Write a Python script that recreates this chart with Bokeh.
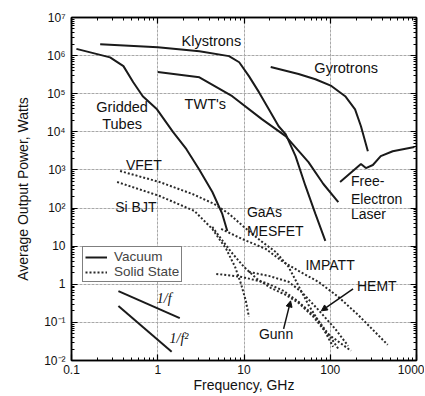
from bokeh.plotting import figure
from bokeh.models import LogAxis, FixedTicker, Legend, LegendItem, Label, Arrow, NormalHead
from bokeh.embed import file_html
from bokeh.resources import INLINE

# ---------------- data ----------------
# Vacuum devices (solid lines): frequency GHz, average power W
gridded_f = [0.114, 0.28, 0.40, 0.52, 0.67, 0.98, 1.5, 2.15, 3.0, 4.3, 5.6, 6.4]
gridded_p = [1.5e6, 9e5, 5.3e5, 2e5, 8.6e4, 3.9e4, 1e4, 3.5e3, 1.06e3, 264, 70, 25]

klystron_f = [0.215, 1.0, 3.04, 6.7, 8.8, 11.4, 14.9, 19.4, 25.2, 30.4, 39.6, 51.6, 67.3, 87.7]
klystron_p = [2.0e6, 1.66e6, 1.31e6, 9.7e5, 6.7e5, 2.9e5, 1.1e5, 3.9e4, 1.4e4, 8.7e3, 2.3e3, 380, 70, 13.7]

twt_f = [1.0, 3.04, 7.3, 16.1, 30.4, 55.9, 83.2, 124]
twt_p = [3.7e5, 2.7e5, 8.6e4, 2.16e4, 7.7e3, 1.6e3, 428, 144]

gyro_f = [20.4, 42.9, 67.3, 103, 149, 194, 227, 273]
gyro_p = [5.0e5, 3.3e5, 2.4e5, 1.6e5, 8.6e4, 3.9e4, 1.4e4, 3.1e3]

fel_f = [130, 227, 259, 312, 385, 530, 948]
fel_p = [482, 1430, 1120, 1350, 2300, 3100, 4000]

# Solid-state devices (dotted lines)
vfet_f = [0.366, 1.05, 2.52, 4.52, 6.73, 10.0, 15.7, 23.3, 32.9, 42.9, 55.9, 83.2, 108]
vfet_p = [937, 482, 234, 128, 70, 31.9, 13.7, 7.06, 2.86, 0.908, 0.288, 0.068, 0.023]

sibjt_f = [0.338, 1.05, 2.66, 4.29, 6.21, 7.88, 9.24, 10.5, 11.4]
sibjt_p = [482, 207, 84, 28.3, 8.47, 2.86, 1.02, 0.367, 0.140]

mesfet_f = [4.29, 5.44, 7.09, 10.0, 14.1, 20.4, 30.4, 42.9, 63.8, 90.0, 174]
mesfet_p = [31.9, 15.5, 7.06, 2.86, 1.39, 0.805, 0.527, 0.326, 0.140, 0.0532, 0.018]

gunn_f = [4.77, 9.48, 17.9, 28.8, 42.9, 67.3, 94.8, 124]
gunn_p = [1.87, 1.56, 1.09, 0.671, 0.346, 0.140, 0.050, 0.0203]

hemt_f = [11.4, 19.4, 32.9, 46.4, 72.8, 114, 161]
hemt_p = [2.11, 1.66, 1.16, 0.632, 0.213, 0.0678, 0.0243]

impatt_f = [5.44, 9.48, 17.9, 27.4, 42.9, 72.8, 124, 210, 312, 464]
impatt_p = [28.3, 15.5, 8.47, 4.10, 2.24, 1.16, 0.468, 0.158, 0.0638, 0.0258]

# reference slopes
inv_f_f = [0.35, 1.8]
inv_f_p = [0.66, 0.13]
inv_f2_f = [0.35, 1.45]
inv_f2_p = [0.27, 0.017]

x_ticks = [0.1, 1, 10, 100, 1000]
x_tick_labels = ["0.1", "1", "10", "100", "1000"]
y_ticks = [0.01, 0.1, 1, 10, 100, 1000, 1e4, 1e5, 1e6, 1e7]
y_tick_labels = ["10\u207b\u00b2", "10\u207b\u00b9", "1", "10", "10\u00b2", "10\u00b3",
                 "10\u2074", "10\u2075", "10\u2076", "10\u2077"]

FONT = "Liberation Sans"

x_minor = [m * 10.0 ** e for e in range(-1, 3) for m in range(2, 10)]
y_minor = [m * 10.0 ** e for e in range(-2, 7) for m in range(2, 10)]
xt = FixedTicker(ticks=x_ticks, minor_ticks=x_minor)
yt = FixedTicker(ticks=y_ticks, minor_ticks=y_minor)

p = figure(width=424, height=395, x_axis_type="log", y_axis_type="log",
           x_range=(0.1, 1000), y_range=(0.01, 1e7),
           output_backend="svg", toolbar_location=None,
           min_border_left=71, min_border_right=8, min_border_top=17, min_border_bottom=35)

p.outline_line_color = "black"
p.outline_line_width = 1.5
p.background_fill_color = "white"

for ax, tk, labs, vals in ((p.xaxis[0], xt, x_tick_labels, x_ticks),
                           (p.yaxis[0], yt, y_tick_labels, y_ticks)):
    ax.ticker = tk
    ax.major_label_overrides = dict(zip(vals, labs))
    ax.major_tick_in = 6
    ax.major_tick_out = 0
    ax.minor_tick_in = 3
    ax.minor_tick_out = 0
    ax.axis_line_width = 1.5
    ax.major_tick_line_width = 1.2
    ax.major_label_text_font = FONT
    ax.major_label_text_font_size = "12px"
    ax.major_label_text_color = "#111111"
    ax.axis_label_text_font = FONT
    ax.axis_label_text_font_size = "14px"
    ax.axis_label_text_font_style = "normal"
    ax.axis_label_text_color = "#111111"

p.xaxis[0].axis_label = "Frequency, GHz"
p.xaxis[0].major_label_standoff = 4
p.xaxis[0].axis_label_standoff = 0
p.yaxis[0].axis_label = "Average Output Power, Watts"
p.yaxis[0].major_label_standoff = 6
p.yaxis[0].axis_label_standoff = 10

p.xgrid.ticker = xt
p.ygrid.ticker = yt
p.grid.grid_line_color = "#a8a8a8"
p.grid.grid_line_dash = "3 1"
p.grid.grid_line_width = 1

for tk, side in ((xt, "above"), (yt, "right")):
    a = LogAxis(ticker=tk, major_label_text_font_size="2px", major_label_text_color=None,
                major_label_standoff=0,
                major_tick_in=6, major_tick_out=0, minor_tick_in=3, minor_tick_out=0,
                axis_line_width=1.5, major_tick_line_width=1.2)
    p.add_layout(a, side)

solid = dict(line_color="#1a1a1a", line_width=2)
dotted = dict(line_color="#2a2a2a", line_width=2, line_dash="2 2")

r_grid = p.line(gridded_f, gridded_p, **solid)
p.line(klystron_f, klystron_p, **solid)
p.line(twt_f, twt_p, **solid)
p.line(gyro_f, gyro_p, **solid)
p.line(fel_f, fel_p, **solid)

r_vfet = p.line(vfet_f, vfet_p, **dotted)
p.line(sibjt_f, sibjt_p, **dotted)
p.line(mesfet_f, mesfet_p, **dotted)
p.line(gunn_f, gunn_p, **dotted)
p.line(hemt_f, hemt_p, **dotted)
p.line(impatt_f, impatt_p, **dotted)

p.line(inv_f_f, inv_f_p, **solid)
p.line(inv_f2_f, inv_f2_p, **solid)

def lab(x, y, t, size="14px", align="left", font=FONT, style="normal"):
    p.add_layout(Label(x=x, y=y, text=t, text_font=font, text_font_size=size,
                       text_align=align, text_baseline="middle", text_color="#111111",
                       text_font_style=style))

lab(4.18, 2.39e6, "Klystrons", "14.5px", "center")
lab(153, 4.69e5, "Gyrotrons", "14.5px", "center")
lab(0.386, 4.46e4, "Gridded", "14.5px", "center")
lab(0.386, 1.6e4, "Tubes", "14.5px", "center")
lab(3.56, 5.33e4, "TWT's", "14.5px", "center")
lab(0.69, 1346, "VFET", "14px", "center")
lab(0.558, 107, "Si BJT", "14px", "center")
lab(10.8, 79, "GaAs", "14px")
lab(10.8, 25, "MESFET", "14px")
lab(174, 513, "Free-", "14px")
lab(174, 173, "Electron", "14px")
lab(174, 70, "Laser", "14px")
lab(51.6, 3.22, "IMPATT", "14px")
lab(204, 0.908, "HEMT", "14px")
lab(14.9, 0.0501, "Gunn", "14px")
lab(0.975, 0.414, "1/f", "14px", font="Liberation Serif", style="italic")
lab(1.37, 0.037, "1/f\u00b2", "14px", font="Liberation Serif", style="italic")

p.add_layout(Arrow(x_start=184, y_start=0.757, x_end=78.8, y_end=0.201,
                   line_width=1.5, line_color="#111111",
                   end=NormalHead(size=6, fill_color="#111111", line_color="#111111")))
p.add_layout(Arrow(x_start=28.8, y_start=0.0678, x_end=34.7, y_end=0.367,
                   line_width=1.5, line_color="#111111",
                   end=NormalHead(size=6, fill_color="#111111", line_color="#111111")))

legend = Legend(items=[LegendItem(label="Vacuum", renderers=[r_grid]),
                       LegendItem(label="Solid State", renderers=[r_vfet])],
                location=(11, 78), border_line_color="black", border_line_width=1.5,
                label_text_font=FONT, label_text_font_size="13.5px",
                glyph_width=22, glyph_height=12, label_height=12, label_standoff=7,
                padding=2, spacing=0, margin=0, background_fill_alpha=1)
p.add_layout(legend)

open("out.html", "w").write(file_html(p, INLINE))
